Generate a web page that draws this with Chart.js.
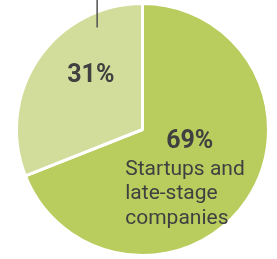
<!DOCTYPE html>
<html>
<head>
<meta charset="utf-8">
<script src="https://cdn.jsdelivr.net/npm/chart.js@4"></script>
<style>
  html, body { margin: 0; padding: 0; background: #fff; }
  #wrap { width: 277px; height: 259px; }
</style>
</head>
<body>
<div id="wrap"><canvas id="pieChart"></canvas></div>
<script>
// slice data, clockwise from the top
const categories = ["Startups and late-stage companies", "Other"];
const shares = [69, 31];
const sliceColors = ["#b8cd5e", "#d2dd9c"];
// text drawn inside each slice
const percentLabels = ["69%", "31%"];
const nameLines = ["Startups and", "late-stage", "companies"];

// draws the in-slice labels and the leader tick, placed from the arc geometry
const labelPlugin = {
    id: "sliceLabels",
    afterDatasetsDraw(chart) {
        let arc = chart.getDatasetMeta(0).data[0];
        let cx = arc.x, cy = arc.y, r = arc.outerRadius;
        let ctx = chart.ctx;
        ctx.save();
        ctx.fillStyle = "#404040";
        ctx.textBaseline = "alphabetic";

        ctx.font = "bold 25px Roboto";
        ctx.textAlign = "center";
        ctx.fillText(percentLabels[1], cx - 0.41 * r, cy - 0.375 * r);
        ctx.fillText(percentLabels[0], cx + 0.375 * r, cy + 0.15 * r);

        ctx.font = "21px Roboto";
        ctx.textAlign = "left";
        nameLines.forEach((line, i) => {
            ctx.fillText(line, cx - 0.137 * r, cy + 0.36 * r + i * 24.5);
        });

        // leader line going out of the top of the picture
        ctx.strokeStyle = "#505050";
        ctx.lineWidth = 1.5;
        ctx.beginPath();
        ctx.moveTo(cx - 0.36 * r, 0);
        ctx.lineTo(cx - 0.36 * r, cy - 0.81 * r);
        ctx.stroke();
        ctx.restore();
    }
};

new Chart(document.getElementById("pieChart").getContext("2d"), {
    type: "pie",
    data: {
        labels: categories,
        datasets: [{
            data: shares,
            backgroundColor: sliceColors,
            borderColor: "#ffffff",
            borderWidth: 3
        }]
    },
    options: {
        responsive: true,
        maintainAspectRatio: false,
        animation: false,
        layout: { padding: { left: 15, right: 7, top: 2, bottom: 2 } },
        plugins: {
            legend: { display: false },
            tooltip: { enabled: false }
        }
    },
    plugins: [labelPlugin]
});
</script>
</body>
</html>
